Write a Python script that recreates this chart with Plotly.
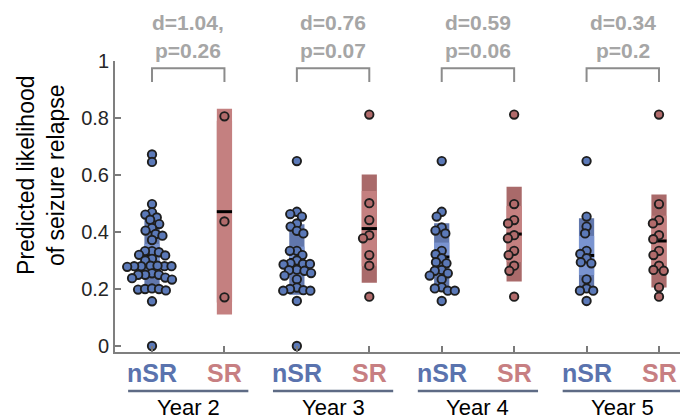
import numpy as np
import plotly.graph_objects as go

# ---------------- data ----------------
years = ["Year 2", "Year 3", "Year 4", "Year 5"]
groups = ["nSR", "SR"]

nsr_y2 = [0.672, 0.646, 0.498, 0.469, 0.461, 0.451, 0.443, 0.428, 0.414, 0.405,
          0.393, 0.387, 0.372, 0.333, 0.333, 0.329, 0.320, 0.318, 0.306, 0.300,
          0.282, 0.280, 0.280, 0.282, 0.280, 0.280, 0.278, 0.255, 0.250, 0.250,
          0.250, 0.240, 0.238, 0.233, 0.198, 0.200, 0.202, 0.200, 0.195, 0.157,
          0.0]
sr_y2 = [0.806, 0.437, 0.171]

nsr_y3 = [0.649, 0.471, 0.463, 0.454, 0.430, 0.419, 0.404, 0.395, 0.334, 0.334,
          0.319, 0.300, 0.290, 0.288, 0.288, 0.286, 0.268, 0.266, 0.264, 0.256,
          0.247, 0.234, 0.205, 0.200, 0.196, 0.194, 0.194, 0.158, 0.0]
sr_y3 = [0.812, 0.501, 0.442, 0.389, 0.378, 0.319, 0.282, 0.173]

nsr_y4 = [0.649, 0.471, 0.454, 0.416, 0.405, 0.395, 0.334, 0.322, 0.308, 0.294,
          0.290, 0.267, 0.264, 0.255, 0.247, 0.234, 0.206, 0.202, 0.194, 0.194,
          0.158]
sr_y4 = [0.812, 0.498, 0.442, 0.430, 0.389, 0.378, 0.334, 0.319, 0.282, 0.264,
         0.173]

nsr_y5 = [0.649, 0.454, 0.419, 0.395, 0.334, 0.323, 0.308, 0.294, 0.290, 0.234,
          0.202, 0.194, 0.194, 0.158]
sr_y5 = [0.812, 0.498, 0.442, 0.430, 0.389, 0.375, 0.334, 0.319, 0.282, 0.267,
         0.264, 0.206, 0.173]

stats_d = ["d=1.04,", "d=0.76", "d=0.59", "d=0.34"]
stats_p = ["p=0.26", "p=0.07", "p=0.06", "p=0.2"]

series = [nsr_y2, sr_y2, nsr_y3, sr_y3, nsr_y4, sr_y4, nsr_y5, sr_y5]

# ---------------- style ----------------
W, H = 681, 419
ML, MR, MT, MB = 115, 1, 61, 67
XR = [0.489, 8.29]
YR = [-0.021, 1.0]
PXX = (W - ML - MR) / (XR[1] - XR[0])
PXY = (H - MT - MB) / (YR[1] - YR[0])

marker_fill = {"nSR": "#5b79b8", "SR": "#b26b6b"}
sd_col = {"nSR": "rgba(88,112,168,0.95)", "SR": "rgba(164,98,98,0.95)"}
ci_col = {"nSR": "rgba(122,148,208,1)", "SR": "rgba(196,128,128,1)"}
label_col = {"nSR": "#5a73ae", "SR": "#c77f82"}
FONT = "Liberation Sans, Arial, Helvetica, sans-serif"


def beeswarm(vals, diam=7.0):
    """greedy swarm offsets (in x data units) from values"""
    ypx = np.asarray(vals, float) * PXY
    order = np.argsort(-ypx)
    placed = []
    offs = np.zeros(len(vals))
    for i in order:
        y = ypx[i]
        cands = [0.0]
        for (px, py) in placed:
            dy = abs(py - y)
            if dy < diam:
                dx = np.sqrt(diam ** 2 - dy ** 2)
                cands += [px + dx, px - dx]
        cands = sorted(cands, key=lambda c: (abs(c), c))
        for c in cands:
            ok = all((c - px) ** 2 + (y - py) ** 2 >= diam ** 2 - 1e-6 for px, py in placed)
            if ok:
                offs[i] = c
                placed.append((c, y))
                break
    return offs / PXX


fig = go.Figure()
shapes = []
annos = []
half = 0.105

for k, vals in enumerate(series):
    pos = k + 1
    g = groups[k % 2]
    v = np.asarray(vals, float)
    m = v.mean()
    sd = v.std(ddof=1)
    ci = 1.96 * sd / np.sqrt(len(v))
    shapes.append(dict(type="rect", xref="x", yref="y", x0=pos - half, x1=pos + half,
                       y0=m - sd, y1=m + sd, fillcolor=sd_col[g], line_width=0, layer="below"))
    shapes.append(dict(type="rect", xref="x", yref="y", x0=pos - half, x1=pos + half,
                       y0=m - ci, y1=m + ci, fillcolor=ci_col[g], line_width=0, layer="below"))
    shapes.append(dict(type="line", xref="x", yref="y", x0=pos - half, x1=pos + half,
                       y0=m, y1=m, line=dict(color="black", width=3), layer="below"))
    fig.add_trace(go.Scatter(
        x=pos + beeswarm(vals), y=v, mode="markers", cliponaxis=False,
        marker=dict(size=8.4, color=marker_fill[g], line=dict(color="#1e1e1e", width=1.9)),
        showlegend=False, hoverinfo="y"))
    annos.append(dict(x=pos, y=0, xref="x", yref="paper", yanchor="middle", yshift=-21,
                      text="<b>%s</b>" % g, showarrow=False,
                      font=dict(family=FONT, size=25, color=label_col[g])))

for j, yr in enumerate(years):
    c = 2 * j + 1.5
    annos.append(dict(x=c, y=0, xref="x", yref="paper", yanchor="middle", yshift=-55,
                      text=yr, showarrow=False, font=dict(family=FONT, size=22, color="black")))
    shapes.append(dict(type="line", xref="x", yref="paper", x0=c - 0.83, x1=c + 0.83,
                       y0=-0.134, y1=-0.134, line=dict(color="#5e6b85", width=2.5)))
    annos.append(dict(x=c, y=1, xref="x", yref="paper", yanchor="middle", yshift=39,
                      text="<b>%s</b>" % stats_d[j], showarrow=False,
                      font=dict(family=FONT, size=21, color="#a6a6a6")))
    annos.append(dict(x=c, y=1, xref="x", yref="paper", yanchor="middle", yshift=11,
                      text="<b>%s</b>" % stats_p[j], showarrow=False,
                      font=dict(family=FONT, size=21, color="#a6a6a6")))
    shapes.append(dict(type="path", xref="x", yref="y",
                       path="M %f,%f L %f,%f L %f,%f L %f,%f" % (c - 0.5, 0.926, c - 0.5, 0.975,
                                                              c + 0.5, 0.975, c + 0.5, 0.926),
                       line=dict(color="#8c8c8c", width=2)))

annos.append(dict(x=0, y=0.605, xref="paper", yref="paper", xshift=-74, textangle=-90,
                  xanchor="center", yanchor="middle",
                  text="Predicted likelihood<br>of seizure relapse", showarrow=False,
                  font=dict(family=FONT, size=23, color="black")))

fig.update_layout(
    width=W, height=H, margin=dict(l=ML, r=MR, t=MT, b=MB),
    plot_bgcolor="white", paper_bgcolor="white",
    shapes=shapes, annotations=annos,
    xaxis=dict(range=XR, tickvals=list(range(1, 9)), showticklabels=False,
               ticks="inside", ticklen=6, tickwidth=1.5, tickcolor="#7a7a7a",
               showline=True, linecolor="#7f7f7f", linewidth=2, showgrid=False,
               zeroline=False),
    yaxis=dict(range=YR, tickvals=[0, 0.2, 0.4, 0.6, 0.8, 1],
               ticktext=["0", "0.2", "0.4", "0.6", "0.8", "1"],
               ticks="inside", ticklen=6, tickwidth=1.5, tickcolor="#7a7a7a",
               showline=True, linecolor="#7f7f7f", linewidth=2, showgrid=False,
               zeroline=False, tickfont=dict(family=FONT, size=20, color="#262626")),
)

fig.write_html("out.html", config={"displayModeBar": False})
with open("out.html", "r", encoding="utf-8") as f:
    html = f.read()
html = html.replace("<head>", "<head><style>html,body{margin:0;padding:0;overflow:hidden}</style>", 1)
with open("out.html", "w", encoding="utf-8") as f:
    f.write(html)
